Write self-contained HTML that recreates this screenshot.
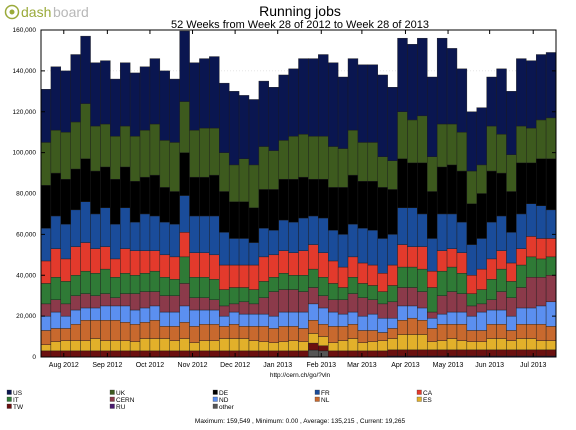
<!DOCTYPE html>
<html><head><meta charset="utf-8">
<style>
html,body{margin:0;padding:0;background:#fff;}
body{width:576px;height:425px;overflow:hidden;font-family:"Liberation Sans",sans-serif;}
svg text{font-family:"Liberation Sans",sans-serif;}
</style></head>
<body>
<svg id="chart" width="576" height="425" viewBox="0 0 576 425" xmlns="http://www.w3.org/2000/svg">
  <g>
    <circle cx="12" cy="12" r="6.5" fill="none" stroke="#9aaa3a" stroke-width="1.5"/>
    <circle cx="12" cy="12" r="2.5" fill="#9aaa3a"/>
    <text x="21" y="17" font-size="14" fill="#9aaa3a">dash</text>
    <text x="53" y="17" font-size="14" fill="#b8b8b8">board</text>
  </g>
  <text x="300" y="16" font-size="14" text-anchor="middle" fill="#000">Running jobs</text>
  <text x="300" y="28" font-size="11" text-anchor="middle" fill="#000">52 Weeks from Week 28 of 2012 to Week 28 of 2013</text>
  <g id="grid"></g>
  <g id="bars"></g>
  <g id="axes"></g>
  <text x="300" y="377" font-size="6.5" text-anchor="middle" fill="#000">http://cern.ch/go/?vln</text>
  <g id="legend"></g>
  <text x="300" y="423" font-size="6.5" text-anchor="middle" fill="#000">Maximum: 159,549 , Minimum: 0.00 , Average: 135,215 , Current: 19,265</text>
</svg>
<script>
const seriesNames = ["other","RU","TW","ES","NL","ND","CERN","IT","CA","FR","DE","UK","US"];
const seriesColors = ["#555555","#4a1a70","#6b1010","#e2b02a","#c8692e","#5b8ff0","#8b3a4a","#2f7a36","#e33a2c","#1a4c9a","#000000","#3d5a1e","#0a1650"];
const monthLabels = ["Aug 2012","Sep 2012","Oct 2012","Nov 2012","Dec 2012","Jan 2013","Feb 2013","Mar 2013","Apr 2013","May 2013","Jun 2013","Jul 2013"];
const monthWeekIndex = [2.3,6.7,11,15.3,19.6,23.9,28.3,32.4,36.8,41.1,45.3,49.7];
const yTicks = [0,20000,40000,60000,80000,100000,120000,140000,160000];
const yTickLabels = ["0","20,000","40,000","60,000","80,000","100,000","120,000","140,000","160,000"];
// values in thousands of jobs, per week (52 weeks)
const other = [0,0,0,0,0,0,0,0,0,0,0,0,0,0,0,0,0,0, 0,0,0,0,0,0,0,0,0,3.4,3,0,0,0,0,0,0, 0,0,0,0,0,0,0,0,0,0,0,0,0,0,0,0,0];
const RU = [0,0,0,0,0,0,0,0,0,0,0,0,0,0,0,0,0,0, 0,0,0,0,0,0,0,0,0,0,0,0,0,0,0,0,0, 0.5,0.5,0.5,0.5,0.5,0.5,0.5,0.5,0.5,0.5,0.5,0.5,0.5,0.5,0.5,0.5,0.5];
const TW = [3,3,3,3,3,3,3,3,3,3,3,3,3,3,3,3,3,3, 3,3,3,3,3,3,3,3,3,3.4,2.5,3,3,3,3,3,3, 3,3,3,3,3,3,3,3,3,3,3,3,3,3,3,3,3];
const ES = [3,4.5,5,5,5,6,5,5,5,4.5,6,6,6,5,6,4,5,5, 6,6,6,5,4.5,4,4.5,5,4.5,4.7,4.5,4,5,6,4,4.5,5, 5.5,7.5,7.5,7.5,4,4.5,5.5,4.5,4,4,5.5,5.5,4.5,5.5,5.5,4.5,4.5];
const NL = [7,6.5,6,8,10,9,10,10,9,8.5,8,9,6,7,8,8,8,8, 6,7,6,7,7.5,7,7.5,7,6.5,6.5,6,8,7,7,6,5.5,4, 5,7,8,7,6.5,8,7,8,5.5,5.5,7,7,5,7,7,8,7];
const ND = [7,8,6,7,6,6,7,7,8,7,7,7,7,7,8,8,7,7, 5,6,6,6,6,6,7,7,8,8,8,7,6,6,7,8,7, 5,7,6,6,5,5,6,6,7,9,7,7,7,8,8,9,12];
const CERN = [6,6,6,7,7,6,6,4,6,8,8,7,8,8,11,6,6,5, 5,4,6,5,8,12,11,11,10,8,6,6,7,9,9,7,7, 8,9,9,8,3,9,10,9,5,4,5,9,9,10,15,14,13];
const IT = [10,11,11,10,11,11,12,10,10,9,9,10,9,8,13,10,10,10, 8,8,7,7,8,7,8,7,8,9,9,8,6,8,7,7,6, 8,10,10,11,12,12,12,10,6,7,10,11,8,11,10,9,9];
const CA = [11,14,11,14,14,12,11,9,12,12,11,10,11,11,12,12,12,12, 12,11,11,12,12,11,11,11,12,12,12,11,10,10,10,10,9, 10,11,10,11,8,10,9,10,9,10,10,9,9,8,10,10,9];
const FR = [16,16,17,18,20,17,19,17,20,14,18,17,16,16,18,18,18,19, 16,13,13,11,14,12,15,15,16,14,17,15,16,16,17,17,17, 15,18,19,16,16,18,17,15,15,15,18,17,15,17,16,16,14];
const DE = [21,21,22,20,21,21,20,22,20,20,18,20,17,16,21,19,19,20, 20,18,18,17,19,20,20,21,20,18,19,21,23,24,23,24,25, 22,24,22,25,23,23,24,25,20,22,25,21,20,25,20,23,25];
const UK = [21,21,23,23,27,22,21,21,20,22,23,25,23,24,25,23,24,23, 19,18,21,21,21,19,19,21,21,21,21,20,19,22,19,19,15, 14,23,21,23,17,21,20,19,16,14,22,19,18,18,17,19,20];
const US = [26,31,30,33,33,31,31,28,31,31,31,32,34,31,34.5,33,34,35, 34,36,31,32,32,31,32,33,37,38,40,41,35,35,38,38,40, 36,36,37,38,39,42,37,31,29,28,24,32,31,33,33,32,32];
const seriesData = [other,RU,TW,ES,NL,ND,CERN,IT,CA,FR,DE,UK,US];

const NS = "http://www.w3.org/2000/svg";
const X0 = 41, X1 = 556, Y0 = 357, Y1 = 30, NW = 52;
const bw = (X1 - X0) / NW;
function xScale(i){ return X0 + i * bw; }
function yScale(v){ return Y0 - (v / 160) * (Y0 - Y1); }
function mk(tag, attrs, parent){ const e = document.createElementNS(NS, tag); for (const k in attrs) e.setAttribute(k, attrs[k]); parent.appendChild(e); return e; }

const grid = document.getElementById("grid");
const bars = document.getElementById("bars");
const axes = document.getElementById("axes");
const legend = document.getElementById("legend");

yTicks.forEach((t, k) => {
  const y = yScale(t / 1000);
  const gl = mk("line", {x1:X0, x2:X1, y1:y, y2:y, stroke:"#ccc", "stroke-width":0.5, "stroke-dasharray":"1,2"}, grid);
  
  
  const lb = mk("text", {x:36, y:y+2, "font-size":6.5, "text-anchor":"end", fill:"#000"}, axes);
  lb.textContent = yTickLabels[k];
  
  
  mk("line", {x1:X0, x2:X0+4, y1:y, y2:y, stroke:"#000", "stroke-width":1}, axes);
  mk("line", {x1:X1-4, x2:X1, y1:y, y2:y, stroke:"#000", "stroke-width":1}, axes);
});

for (let i = 0; i < NW; i++) {
  let base = 0;
  for (let s = 0; s < seriesData.length; s++) {
    const v = seriesData[s][i];
    if (v <= 0) continue;
    const yTop = yScale(base + v), yBot = yScale(base);
    const r = mk("rect", {x:xScale(i), y:yTop, width:bw, height:yBot - yTop, fill:seriesColors[s], stroke:"#1a1a1a", "stroke-width":0.4}, bars);
    
    
    base += v;
  }
}

monthLabels.forEach((m, k) => {
  const x = xScale(monthWeekIndex[k]);
  mk("line", {x1:x, x2:x, y1:Y0, y2:Y0-4, stroke:"#000", "stroke-width":1}, axes);
  mk("line", {x1:x, x2:x, y1:Y1, y2:Y1+4, stroke:"#000", "stroke-width":1}, axes);
  const t = mk("text", {x:x, y:367, "font-size":7, "text-anchor":"middle", fill:"#000"}, axes);
  t.textContent = m;
  
  
});
const frame = mk("rect", {x:X0, y:Y1, width:X1-X0, height:Y0-Y1, fill:"none", stroke:"#000", "stroke-width":1}, axes);



const legendOrder = ["US","UK","DE","FR","CA","IT","CERN","ND","NL","ES","TW","RU","other"];
const colX = [7, 110, 213, 315, 417];
legendOrder.forEach((n, k) => {
  const col = k % 5, row = Math.floor(k / 5);
  const s = seriesNames.indexOf(n);
  const g = mk("g", {}, legend);
  
  
  mk("rect", {x:colX[col], y:390 + row*7, width:4.5, height:4.5, fill:seriesColors[s], stroke:"#333", "stroke-width":0.3}, g);
  const t = mk("text", {x:colX[col]+6, y:394.8 + row*7, "font-size":6.5, fill:"#000"}, g);
  t.textContent = n;
});
</script>
</body></html>
